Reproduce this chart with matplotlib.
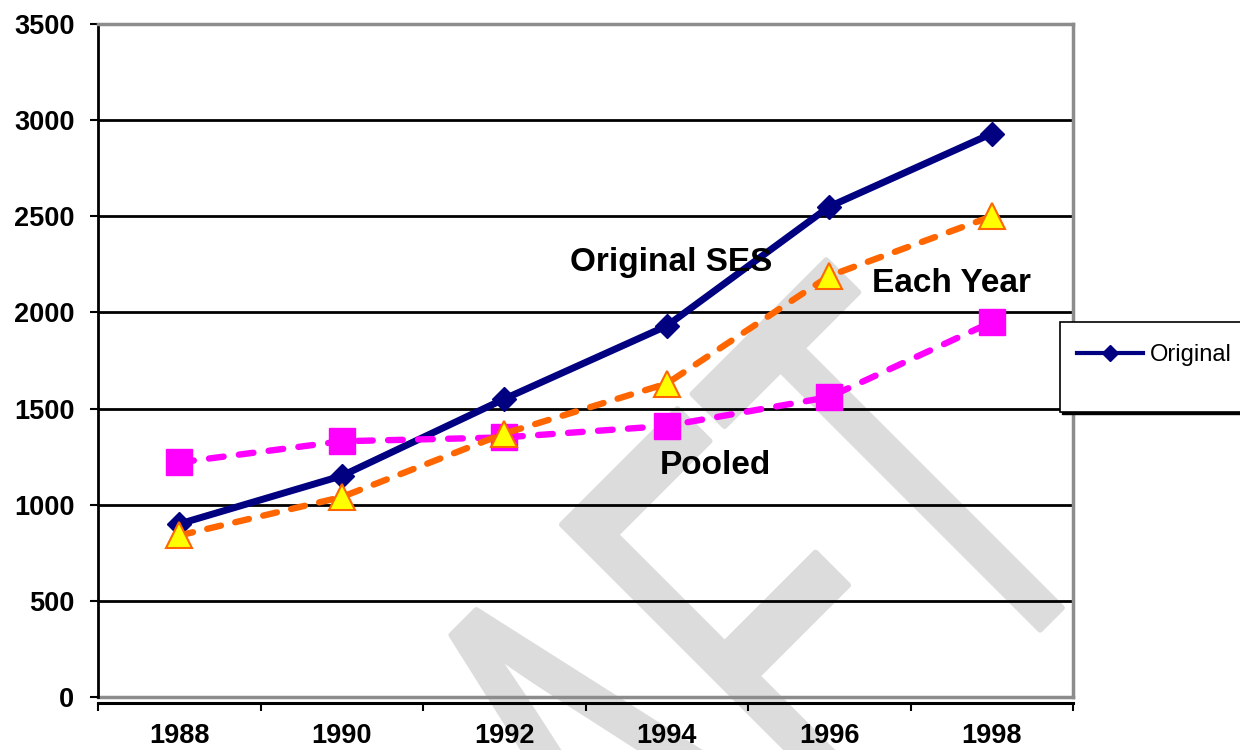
import numpy as np
import matplotlib
matplotlib.use("Agg")
import matplotlib.pyplot as plt
from matplotlib.textpath import TextPath
from matplotlib.patches import PathPatch, Rectangle
from matplotlib.font_manager import FontProperties
from matplotlib.transforms import Affine2D, IdentityTransform
from matplotlib.lines import Line2D

# ---------------- data ----------------
years = ["1988", "1990", "1992", "1994", "1996", "1998"]
original_ses = [900, 1150, 1550, 1930, 2550, 2930]
each_year = [840, 1040, 1370, 1630, 2190, 2500]
pooled = [1220, 1330, 1350, 1410, 1560, 1950]
y_ticks = [0, 500, 1000, 1500, 2000, 2500, 3000, 3500]

W, H = 1240, 750
FONT = "Liberation Sans"

fig = plt.figure(figsize=(W / 100, H / 100), dpi=100)
fig.patch.set_facecolor("white")

# ---------------- watermark (stretched DRAFT) ----------------
tp = TextPath((0, 0), "DRAFT", size=1, prop=FontProperties(family=FONT))
tr = Affine2D().scale(335, 600).rotate_deg(45).translate(334, -586)
wm = PathPatch(tr.transform_path(tp), facecolor="#dcdcdc", edgecolor="#dcdcdc",
               lw=4, joinstyle="round", transform=IdentityTransform(), zorder=-5)
fig.add_artist(wm)

# ---------------- axes ----------------
ax = fig.add_axes([98 / W, 1 - 697 / H, 975 / W, 673 / H])
ax.patch.set_alpha(0)
x = np.arange(len(years))
ax.set_xlim(-0.5, len(years) - 0.5)
ax.set_ylim(y_ticks[0], y_ticks[-1])

for v in y_ticks[1:-1]:
    ax.axhline(v, color="black", lw=2, zorder=1)
ax.axhline(0, color="#8c8c8c", lw=2.5, zorder=1.5, clip_on=False)

ax.plot(x, original_ses, color="#000080", lw=5, marker="D", ms=12,
        mfc="#000080", mec="#000080", zorder=3, label="Original SES")
ax.plot(x, pooled, color="#ff00ff", lw=4.6, ls=(0, (2.3, 2.4)),
        dash_capstyle="round", marker="s", ms=19, mfc="#ff00ff", mec="#ff00ff",
        zorder=4)
ax.plot(x, each_year, color="#ff6600", lw=4.6, ls=(0, (2.2, 2.3)),
        dash_capstyle="round", marker="^", ms=19, mfc="#ffff00", mec="#ff6600",
        mew=1.5, zorder=5)

# spines
for s in ["top", "right"]:
    ax.spines[s].set_color("#8c8c8c")
    ax.spines[s].set_linewidth(2.5)
ax.spines["left"].set_color("black")
ax.spines["left"].set_linewidth(2)
ax.spines["bottom"].set_color("black")
ax.spines["bottom"].set_linewidth(2.2)
ax.spines["bottom"].set_position(("outward", 4))

# ticks
ax.set_yticks(y_ticks)
ax.set_yticklabels([str(v) for v in y_ticks])
ax.tick_params(axis="y", direction="out", length=6, width=1.5, color="black",
               pad=11)
ax.set_xticks(x)
ax.set_xticklabels(years)
ax.set_xticks(np.arange(-0.5, len(years)), minor=True)
ax.tick_params(axis="x", which="major", length=0, pad=15)
ax.tick_params(axis="x", which="minor", direction="out", length=6, width=1.5,
               color="black")
for lab in ax.get_yticklabels():
    lab.set_fontfamily(FONT)
    lab.set_fontweight("bold")
    lab.set_fontsize(19.5)
for lab in ax.get_xticklabels():
    lab.set_fontfamily(FONT)
    lab.set_fontweight("bold")
    lab.set_fontsize(19.5)

# annotations
ax.text(3.03, 2262, "Original SES", ha="center", va="center", fontsize=24,
        fontweight="bold", family=FONT, zorder=6)
ax.text(4.75, 2153, "Each Year", ha="center", va="center", fontsize=24,
        fontweight="bold", family=FONT, zorder=6)
ax.text(3.30, 1206, "Pooled", ha="center", va="center", fontsize=24,
        fontweight="bold", family=FONT, zorder=6)

# ---------------- legend box (cut by the right edge) ----------------
fig.add_artist(Rectangle((1062 / W, 1 - 414 / H), 0.2, 90 / H,
                         transform=fig.transFigure, facecolor="black",
                         edgecolor="black", lw=1, zorder=7))
fig.add_artist(Rectangle((1060 / W, 1 - 412 / H), 0.2, 90 / H,
                         transform=fig.transFigure, facecolor="white",
                         edgecolor="black", lw=1.2, zorder=8))
h = Line2D([], [], color="#000080", lw=3, marker="D", ms=8,
           mfc="#000080", mec="#000080")
leg = fig.legend([h], ["Original"], loc="center left",
                 bbox_to_anchor=(1077 / W, 1 - 355 / H), frameon=False,
                 handlelength=2.8, handletextpad=0.28, borderpad=0,
                 borderaxespad=0,
                 prop=FontProperties(family=FONT, size=17))
leg.set_zorder(9)

fig.savefig("out.png", dpi=100, facecolor="white")
